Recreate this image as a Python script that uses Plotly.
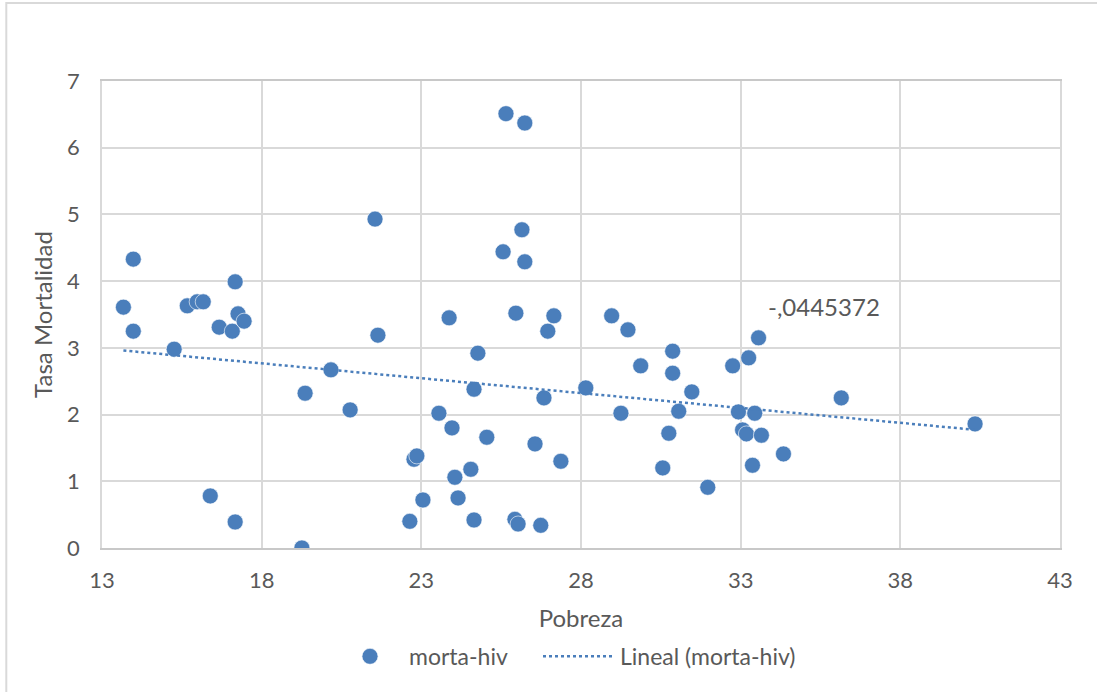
import numpy as np
import plotly.graph_objects as go

pobreza = [13.67, 13.98, 13.98, 15.26, 15.67, 15.98, 16.17, 16.67, 16.39, 17.08,
           17.17, 17.26, 17.45, 17.17, 19.26, 19.36, 20.17, 20.77, 21.55, 21.64,
           22.64, 22.77, 22.86, 23.05, 23.55, 23.87, 23.96, 24.05, 24.15, 24.55,
           24.65, 24.65, 24.77, 25.05, 25.56, 25.65, 25.93, 25.96, 26.03, 26.15,
           26.24, 26.24, 26.56, 26.74, 26.84, 26.96, 27.15, 27.37, 28.15, 28.96,
           29.25, 29.47, 29.87, 30.56, 30.75, 30.87, 30.87, 31.06, 31.47, 31.97,
           32.75, 32.93, 33.06, 33.18, 33.25, 33.37, 33.44, 33.56, 33.65, 34.34,
           36.15, 40.34]
mortalidad = [3.61, 4.33, 3.25, 2.98, 3.63, 3.69, 3.69, 3.31, 0.78, 3.25,
              3.99, 3.51, 3.40, 0.39, 0.00, 2.32, 2.67, 2.07, 4.93, 3.19,
              0.40, 1.33, 1.38, 0.72, 2.02, 3.45, 1.80, 1.06, 0.75, 1.18,
              2.38, 0.42, 2.92, 1.66, 4.44, 6.51, 0.43, 3.52, 0.36, 4.77,
              6.37, 4.29, 1.56, 0.34, 2.25, 3.25, 3.48, 1.30, 2.40, 3.48,
              2.02, 3.27, 2.73, 1.20, 1.72, 2.95, 2.62, 2.05, 2.34, 0.91,
              2.73, 2.04, 1.77, 1.71, 2.85, 1.24, 2.02, 3.15, 1.69, 1.41,
              2.25, 1.86]
x_ticks = [13, 18, 23, 28, 33, 38, 43]
y_ticks = [0, 1, 2, 3, 4, 5, 6, 7]
slope_label = "-,0445372"

blue = "#4a7ebb"
grey_txt = "#595959"
grid = "#d9d9d9"
font = "Lato, Open Sans, sans-serif"

xs = np.array(pobreza)
ys = np.array(mortalidad)
m, b = np.polyfit(xs, ys, 1)
tx = np.array([xs.min(), xs.max()])
ty = m * tx + b

fig = go.Figure()
fig.add_trace(go.Scatter(
    x=pobreza, y=mortalidad, mode="markers", name="morta-hiv", legend="legend",
    marker=dict(size=16, color=blue, line=dict(color="white", width=0.6)),
))
fig.add_trace(go.Scatter(
    x=tx, y=ty, mode="lines", name="Lineal (morta-hiv)", legend="legend2",
    line=dict(color=blue, width=2.5, dash="dot"),
))

fig.add_annotation(x=35.6, y=3.62, text=slope_label, showarrow=False,
                   font=dict(size=24, color=grey_txt, family=font))

# outer chart border (cropped at right/bottom)
fig.add_shape(type="rect", xref="paper", yref="paper",
              x0=-0.0999, x1=1.2, y0=-0.5, y1=1.167,
              line=dict(color="#d9d9d9", width=2), layer="below")

leg_common = dict(orientation="h", y=-0.232, yanchor="middle", xanchor="left",
                  font=dict(size=23, color=grey_txt),
                  bgcolor="rgba(0,0,0,0)")

fig.update_layout(
    width=1097, height=692,
    margin=dict(l=102, r=37, t=81, b=144),
    plot_bgcolor="white", paper_bgcolor="white",
    font=dict(family=font, color=grey_txt, size=22),
    showlegend=True,
    legend=dict(x=(331 - 102) / 958, itemwidth=68, **leg_common),
    legend2=dict(x=(538 - 102) / 958, itemwidth=72, **leg_common),
    xaxis=dict(range=[13, 43], tickvals=x_ticks, showgrid=True, gridcolor=grid,
               gridwidth=1.5, zeroline=False, showline=True, linecolor="#c8c8c8",
               linewidth=1.5, mirror=True, ticks="", ticklabelstandoff=12,
               tickfont=dict(size=22),
               title=dict(text="Pobreza", standoff=18, font=dict(size=24, color=grey_txt))),
    yaxis=dict(range=[0, 7], tickvals=y_ticks, showgrid=True, gridcolor=grid,
               gridwidth=1.5, zeroline=False, showline=True, linecolor=grid,
               linewidth=1.5, mirror=True, ticks="", ticklabelstandoff=16,
               tickfont=dict(size=22),
               title=dict(text="Tasa Mortalidad", standoff=8, font=dict(size=24, color=grey_txt))),
)

fig.write_html("out.html")
